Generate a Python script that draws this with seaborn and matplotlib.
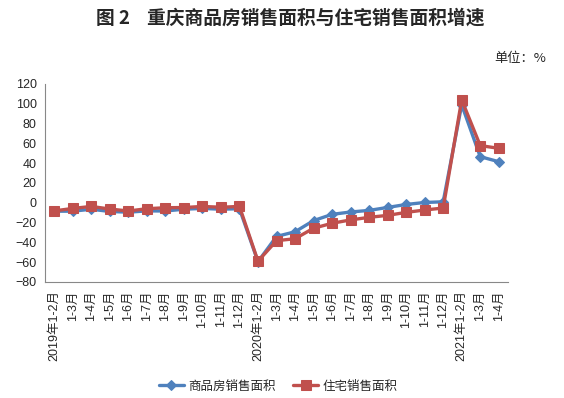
# Chongqing sales area growth chart
import numpy as np
import pandas as pd
import matplotlib
matplotlib.use("Agg")
import matplotlib.pyplot as plt
import seaborn as sns

# -------------------------
# data
# -------------------------
months = ["2019年1-2月", "1-3月", "1-4月", "1-5月", "1-6月", "1-7月", "1-8月", "1-9月",
          "1-10月", "1-11月", "1-12月",
          "2020年1-2月", "1-3月", "1-4月", "1-5月", "1-6月", "1-7月", "1-8月", "1-9月",
          "1-10月", "1-11月", "1-12月",
          "2021年1-2月", "1-3月", "1-4月"]

commercial = [-8.5, -8.5, -6.5, -8.8, -9.5, -8.2, -8.3, -6.5, -5.7, -6.5, -6.0,
              -59.5, -34.0, -29.3, -18.0, -11.7, -9.3, -7.7, -4.7, -1.7, 0.3, 1.0,
              99.0, 46.6, 41.5]
residential = [-8.2, -5.7, -3.7, -6.3, -8.3, -6.0, -5.0, -4.8, -3.7, -4.5, -3.7,
               -59.0, -38.3, -36.3, -25.7, -20.7, -17.3, -14.7, -12.7, -9.7, -7.3, -5.3,
               104.0, 57.8, 55.0]

series_names = ["商品房销售面积", "住宅销售面积"]
colors = ["#4F81BD", "#C0504D"]

df = pd.DataFrame({"idx": np.arange(len(months)),
                   series_names[0]: commercial,
                   series_names[1]: residential})

# -------------------------
# plot
# -------------------------
sns.set_style("white")
plt.rcParams["font.family"] = ["Liberation Sans", "Noto Sans CJK SC", "DejaVu Sans"]

fig = plt.figure(figsize=(5.64, 3.98), dpi=100)
ax = fig.add_axes([0.0798, 0.2915, 0.8209, 0.4975])

sns.lineplot(data=df, x="idx", y=series_names[0], ax=ax, color=colors[0],
             linewidth=2.4, marker="D", markersize=5.5, markeredgecolor=colors[0],
             label=series_names[0])
sns.lineplot(data=df, x="idx", y=series_names[1], ax=ax, color=colors[1],
             linewidth=2.4, marker="s", markersize=7, markeredgecolor=colors[1],
             label=series_names[1])

ax.set_xlim(-0.5, len(months) - 0.5)
ax.set_ylim(-80, 120)
ax.set_yticks(range(-80, 121, 20))
ax.set_xticks(np.arange(len(months)))
ax.set_xticklabels(months, rotation=90, fontsize=9)
ax.set_xticks(np.arange(-0.5, len(months), 1), minor=True)
ax.tick_params(axis="x", which="major", length=0, pad=6)
ax.tick_params(axis="x", which="minor", length=4, color="#888888", direction="out")
ax.tick_params(axis="y", length=4, color="#888888", direction="out", labelsize=9, pad=2)
ax.set_xlabel("")
ax.set_ylabel("")

for s in ["top", "right"]:
    ax.spines[s].set_visible(False)
for s in ["left", "bottom"]:
    ax.spines[s].set_color("#888888")
    ax.spines[s].set_linewidth(0.8)

ax.get_legend().remove()
handles, labels = ax.get_legend_handles_labels()
fig.legend(handles, labels, loc="center", bbox_to_anchor=(0.493, 0.03), ncol=2,
           frameon=False, handlelength=2.0, handletextpad=0.35, columnspacing=1.4,
           prop={"family": ["Noto Sans CJK SC"], "size": 9})

fig.text(0.515, 0.955, "图 2    重庆商品房销售面积与住宅销售面积增速", ha="center", va="center",
         fontsize=13.5, fontweight="bold", family=["Noto Sans CJK SC"])
fig.text(0.968, 0.854, "单位：%", ha="right", va="center", fontsize=9.5,
         family=["Noto Sans CJK SC"])

fig.savefig("out.png", dpi=100)
